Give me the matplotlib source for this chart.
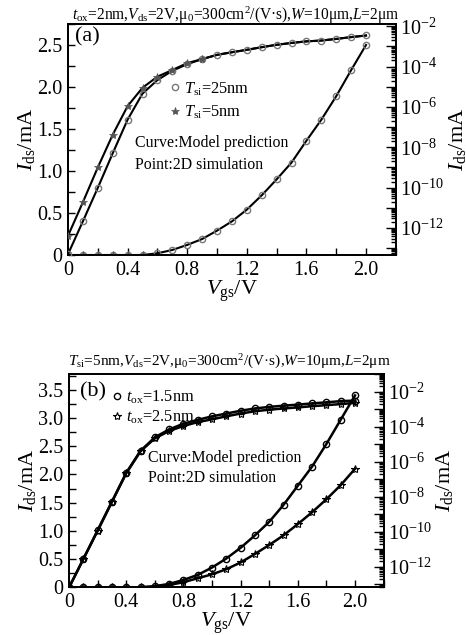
import numpy as np
import matplotlib
matplotlib.use("Agg")
import matplotlib.pyplot as plt
from matplotlib.lines import Line2D
from matplotlib.ticker import MultipleLocator, LogLocator, FuncFormatter, NullFormatter

plt.rcParams['font.family'] = ['Liberation Serif', 'DejaVu Serif']
plt.rcParams['mathtext.fontset'] = 'custom'
plt.rcParams['mathtext.rm'] = 'Liberation Serif'
plt.rcParams['mathtext.it'] = 'Liberation Serif:italic'
plt.rcParams['mathtext.bf'] = 'Liberation Serif:bold'

# ---------------- data ----------------
vgs = [0.0, 0.1, 0.2, 0.3, 0.4, 0.5, 0.6, 0.7, 0.8, 0.9, 1.0,
       1.1, 1.2, 1.3, 1.4, 1.5, 1.6, 1.7, 1.8, 1.9, 2.0]

# panel (a): linear Ids (mA), both Tsi overlap
a_lin = [0, 0, 0, 0, 0, 0, 0.02, 0.06, 0.12, 0.19, 0.29,
         0.40, 0.54, 0.71, 0.90, 1.10, 1.36, 1.61, 1.89, 2.20, 2.50]
# panel (a): log10 of Ids (mA), right axis
a_log_tsi25 = [-13.3, -11.67, -10.01, -8.30, -6.63, -5.34, -4.67, -4.21, -3.88, -3.63, -3.42,
               -3.29, -3.17, -3.04, -2.92, -2.83, -2.75, -2.71, -2.63, -2.54, -2.46]
a_log_tsi5 = [-12.39, -10.72, -9.00, -7.38, -5.96, -5.05, -4.50, -4.17, -3.83, -3.63, -3.42,
              -3.29, -3.17, -3.04, -2.92, -2.83, -2.75, -2.71, -2.63, -2.54, -2.46]

# panel (b): linear Ids (mA)
b_lin_tox15 = [0, 0, 0, 0, 0, 0, 0.02, 0.06, 0.13, 0.22, 0.35,
               0.51, 0.70, 0.92, 1.16, 1.46, 1.80, 2.14, 2.54, 2.97, 3.40]
b_lin_tox25 = [0, 0, 0, 0, 0, 0, 0.01, 0.04, 0.09, 0.16, 0.23,
               0.32, 0.44, 0.59, 0.75, 0.92, 1.12, 1.33, 1.56, 1.81, 2.10]
# panel (b): log10 of Ids (mA)
b_log_tox15 = [-13.2, -11.57, -9.92, -8.28, -6.64, -5.38, -4.61, -4.16, -3.83, -3.61, -3.41,
               -3.25, -3.09, -2.96, -2.87, -2.80, -2.74, -2.67, -2.61, -2.54, -2.51]
b_log_tox25 = [-13.2, -11.57, -9.96, -8.31, -6.67, -5.41, -4.67, -4.25, -3.96, -3.74, -3.58,
               -3.41, -3.25, -3.12, -3.03, -2.96, -2.90, -2.83, -2.77, -2.71, -2.64]

xticks = [0, 0.4, 0.8, 1.2, 1.6, 2.0]
xticklabels = ['0', '0.4', '0.8', '1.2', '1.6', '2.0']

title_a = r'$t_{\rm ox}$=2nm,$V_{\rm ds}$=2V,μ$_0$=300cm$^2$/(V·s),$W$=10μm,$L$=2μm'
title_b = r'$T_{\rm si}$=5nm,$V_{\rm ds}$=2V,μ$_0$=300cm$^2$/(V·s),$W$=10μm,$L$=2μm'

W, H = 466, 635
fig = plt.figure(figsize=(W / 100, H / 100), dpi=100)

def frac(l, r, t, b):
    return [l / W, 1 - b / H, (r - l) / W, (b - t) / H]

TICK_FS = 14.5

def style_axes(ax, ax2, ymax, lo, hi):
    ax.set_xlim(0, 2.2)
    ax.set_ylim(0, ymax)
    ax.set_xticks(xticks)
    ax.set_xticklabels(xticklabels)
    ax.xaxis.set_minor_locator(MultipleLocator(0.2))
    ax.yaxis.set_major_locator(MultipleLocator(0.5))
    ax.yaxis.set_minor_locator(MultipleLocator(0.25))
    ax.yaxis.set_major_formatter(FuncFormatter(lambda v, p: '0' if abs(v) < 1e-9 else '%.1f' % v))
    ax.tick_params(axis='both', which='both', direction='in', labelsize=TICK_FS,
                   top=False, right=False, width=1.0)
    ax.tick_params(axis='x', which='major', length=5, pad=4)
    ax.tick_params(axis='y', which='major', length=5, pad=4)
    ax.tick_params(axis='both', which='minor', length=5)
    ax2.set_yscale('log')
    ax2.set_ylim(10 ** lo, 10 ** hi)
    ax2.yaxis.set_major_locator(LogLocator(base=10, numticks=30))
    ax2.yaxis.set_minor_locator(LogLocator(base=10, subs=np.arange(2, 10), numticks=30))
    def fmt(v, p):
        e = int(round(np.log10(v)))
        if e % 2 == 0:
            return r'10$^{%d}$' % e
        return ''
    ax2.yaxis.set_major_formatter(FuncFormatter(fmt))
    ax2.yaxis.set_minor_formatter(NullFormatter())
    ax2.tick_params(axis='y', which='both', direction='in', labelsize=TICK_FS, width=1.0)
    ax2.tick_params(axis='y', which='major', length=7, pad=3)
    ax2.tick_params(axis='y', which='minor', length=3.5)
    for a in (ax, ax2):
        for s in a.spines.values():
            s.set_linewidth(1.3)
    ax.set_xlabel(r'$V_{\rm gs}$/V', fontsize=16, labelpad=-1)
    ax.set_ylabel(r'$I_{\rm ds}$/mA', fontsize=16, labelpad=0)
    ax2.set_ylabel(r'$I_{\rm ds}$/mA', fontsize=16, rotation=90, labelpad=2)

# ---------------- panel (a) ----------------
axa = fig.add_axes(frac(68, 395.8, 24, 255))
axa2 = axa.twinx()
style_axes(axa, axa2, 2.75, -13.34, -1.89)

circ_a = dict(marker='o', ms=4.5, mfc='none', mec='#777777', mew=1.0)
star_a = dict(marker='*', ms=6, mfc='#555555', mec='#555555', mew=0.5)

axa.plot(vgs, a_lin, color='black', lw=1.5, zorder=3)
axa.plot(vgs, a_lin, ls='none', zorder=4, **circ_a)
axa.plot(vgs[:6], a_lin[:6], ls='none', zorder=4, **star_a)
axa2.plot(vgs, 10 ** np.array(a_log_tsi25), color='black', lw=1.5, zorder=3)
axa2.plot(vgs, 10 ** np.array(a_log_tsi25), ls='none', zorder=4, **circ_a)
axa2.plot(vgs, 10 ** np.array(a_log_tsi5), color='black', lw=1.5, zorder=3)
axa2.plot(vgs[:10], 10 ** np.array(a_log_tsi5[:10]), ls='none', zorder=4, **star_a)

axa.text(0.02, 0.945, '(a)', transform=axa.transAxes, fontsize=16, va='center', ha='left')
hs = [Line2D([], [], ls='none', **circ_a), Line2D([], [], ls='none', **star_a)]
axa.legend(hs, [r'$T_{\rm si}$=25nm', r'$T_{\rm si}$=5nm'], loc='upper left',
           bbox_to_anchor=(0.29, 0.785), frameon=False, fontsize=11.8,
           handlelength=0.7, handletextpad=0.2, labelspacing=0.35, borderaxespad=0)
axa.text(0.205, 0.485, 'Curve:Model prediction', transform=axa.transAxes, fontsize=11.4, va='center')
axa.text(0.205, 0.39, 'Point:2D simulation', transform=axa.transAxes, fontsize=11.4, va='center')
fig.text(236 / W, 1 - 15 / H, title_a, ha='center', va='center', fontsize=11.2)

# ---------------- panel (b) ----------------
axb = fig.add_axes(frac(69, 383.6, 374, 587.3))
axb2 = axb.twinx()
style_axes(axb, axb2, 3.78, -13.18, -0.99)

circ_b = dict(marker='o', ms=4.5, mfc='none', mec='black', mew=1.0)
star_b = dict(marker='*', ms=6, mfc='none', mec='black', mew=0.8)

axb.plot(vgs, b_lin_tox15, color='black', lw=1.8, zorder=3)
axb.plot(vgs, b_lin_tox15, ls='none', zorder=4, **circ_b)
axb.plot(vgs, b_lin_tox25, color='black', lw=1.8, zorder=3)
axb.plot(vgs, b_lin_tox25, ls='none', zorder=4, **star_b)
axb2.plot(vgs, 10 ** np.array(b_log_tox15), color='black', lw=1.8, zorder=3)
axb2.plot(vgs, 10 ** np.array(b_log_tox15), ls='none', zorder=4, **circ_b)
axb2.plot(vgs, 10 ** np.array(b_log_tox25), color='black', lw=1.8, zorder=3)
axb2.plot(vgs, 10 ** np.array(b_log_tox25), ls='none', zorder=4, **star_b)

axb.text(0.035, 0.915, '(b)', transform=axb.transAxes, fontsize=16, va='center', ha='left')
hs = [Line2D([], [], ls='none', **circ_b), Line2D([], [], ls='none', **star_b)]
axb.legend(hs, [r'$t_{\rm ox}$=1.5nm', r'$t_{\rm ox}$=2.5nm'], loc='upper left',
           bbox_to_anchor=(0.115, 0.96), frameon=False, fontsize=11.8,
           handlelength=0.7, handletextpad=0.2, labelspacing=0.15, borderaxespad=0)
axb.text(0.25, 0.606, 'Curve:Model prediction', transform=axb.transAxes, fontsize=11.4, va='center')
axb.text(0.25, 0.512, 'Point:2D simulation', transform=axb.transAxes, fontsize=11.4, va='center')
fig.text(229 / W, 1 - 362 / H, title_b, ha='center', va='center', fontsize=11)

fig.savefig('out.png', dpi=100)
